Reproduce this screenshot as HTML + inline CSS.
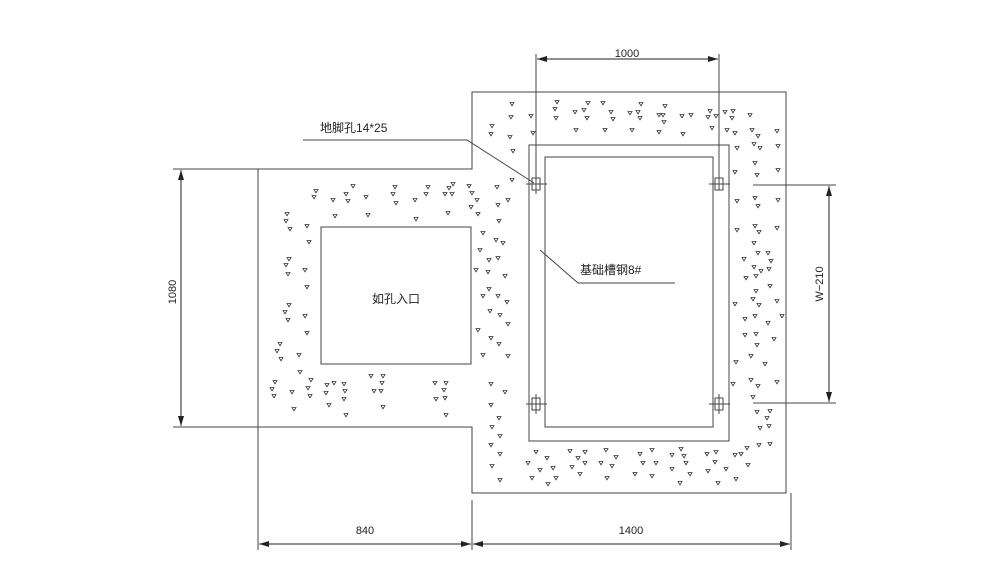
<!DOCTYPE html>
<html><head><meta charset="utf-8"><style>
html,body{margin:0;padding:0;background:#fff}
svg{display:block}
text{font-family:"Liberation Sans","Noto Sans CJK SC",sans-serif;fill:#222}
</style></head><body>
<svg width="1000" height="582" viewBox="0 0 1000 582">
<defs>
<polygon id="t" points="-2,-1.5 2,-1.5 0,1.8" fill="none" stroke="#333" stroke-width="0.8"/>
<marker id="a" markerWidth="10" markerHeight="6" refX="10" refY="3" orient="auto-start-reverse" markerUnits="userSpaceOnUse"><path d="M0,0 L10,3 L0,6 Z" fill="#222"/></marker>
</defs>
<g stroke="#444" stroke-width="1" fill="none">
<!-- outline -->
<polyline points="173,169 472,169 472,92 786,92 786,493 472,493 472,427 173,427"/>
<line x1="258" y1="169" x2="258" y2="550"/>
<line x1="472" y1="500" x2="472" y2="550"/>
<line x1="791" y1="493" x2="791" y2="550"/>
<!-- hole -->
<rect x="321" y="227" width="150" height="137"/>
<!-- channel -->
<rect x="529" y="145" width="200" height="296"/>
<rect x="545" y="157" width="168" height="270"/>
<!-- bolts -->
<g>
<rect x="532" y="178" width="8" height="12"/><line x1="526" y1="184" x2="547" y2="184"/><line x1="536" y1="174" x2="536" y2="194"/>
<rect x="715" y="178" width="8" height="12"/><line x1="709" y1="184" x2="730" y2="184"/>
<rect x="532" y="398" width="8" height="12"/><line x1="526" y1="404" x2="547" y2="404"/><line x1="536" y1="394" x2="536" y2="414"/>
<rect x="715" y="398" width="8" height="12"/><line x1="709" y1="404" x2="730" y2="404"/><line x1="719" y1="394" x2="719" y2="414"/>
</g>
<!-- dim 1000 -->
<line x1="536" y1="54" x2="536" y2="190"/>
<line x1="719" y1="54" x2="719" y2="190"/>
<line x1="537" y1="59" x2="718" y2="59" stroke="#222" marker-start="url(#a)" marker-end="url(#a)"/>
<!-- W-210 -->
<line x1="753" y1="185" x2="836" y2="185"/>
<line x1="753" y1="403" x2="836" y2="403"/>
<line x1="829" y1="186" x2="829" y2="402" stroke="#222" marker-start="url(#a)" marker-end="url(#a)"/>
<!-- 1080 -->
<line x1="181" y1="170" x2="181" y2="426" stroke="#222" marker-start="url(#a)" marker-end="url(#a)"/>
<!-- 840, 1400 -->
<line x1="259" y1="544" x2="471" y2="544" stroke="#222" marker-start="url(#a)" marker-end="url(#a)"/>
<line x1="473" y1="544" x2="790" y2="544" stroke="#222" marker-start="url(#a)" marker-end="url(#a)"/>
<!-- leaders -->
<polyline points="303,140 467,140 534,183"/>
<polyline points="540,250 578,283 675,283"/>
</g>
<g>
<!-- top band of right part -->
<use href="#t" x="512" y="104"/><use href="#t" x="511" y="117"/><use href="#t" x="531" y="116"/><use href="#t" x="492" y="126"/><use href="#t" x="491" y="134"/><use href="#t" x="510" y="137"/><use href="#t" x="533" y="133"/><use href="#t" x="513" y="151"/>
<use href="#t" x="557" y="102"/><use href="#t" x="555" y="109"/><use href="#t" x="556" y="118"/><use href="#t" x="575" y="112"/><use href="#t" x="584" y="110"/><use href="#t" x="587" y="118"/><use href="#t" x="576" y="130"/>
<use href="#t" x="588" y="103"/><use href="#t" x="603" y="103"/><use href="#t" x="611" y="112"/><use href="#t" x="613" y="119"/><use href="#t" x="605" y="130"/>
<use href="#t" x="641" y="104"/><use href="#t" x="630" y="113"/><use href="#t" x="638" y="112"/><use href="#t" x="640" y="118"/><use href="#t" x="632" y="130"/>
<use href="#t" x="665" y="106"/><use href="#t" x="659" y="115"/><use href="#t" x="663" y="115"/><use href="#t" x="664" y="122"/><use href="#t" x="659" y="132"/><use href="#t" x="682" y="116"/><use href="#t" x="691" y="115"/><use href="#t" x="683" y="134"/>
<use href="#t" x="710" y="111"/><use href="#t" x="708" y="117"/><use href="#t" x="716" y="116"/><use href="#t" x="712" y="128"/><use href="#t" x="725" y="112"/><use href="#t" x="733" y="111"/><use href="#t" x="732" y="118"/><use href="#t" x="750" y="115"/>
<use href="#t" x="727" y="130"/><use href="#t" x="735" y="133"/><use href="#t" x="752" y="130"/><use href="#t" x="758" y="136"/><use href="#t" x="777" y="131"/><use href="#t" x="737" y="148"/><use href="#t" x="754" y="144"/><use href="#t" x="760" y="148"/><use href="#t" x="778" y="146"/>
<!-- right band -->
<use href="#t" x="735" y="172"/><use href="#t" x="755" y="163"/><use href="#t" x="757" y="175"/><use href="#t" x="778" y="170"/><use href="#t" x="737" y="201"/><use href="#t" x="755" y="198"/><use href="#t" x="758" y="206"/><use href="#t" x="778" y="200"/>
<use href="#t" x="737" y="230"/><use href="#t" x="755" y="226"/><use href="#t" x="759" y="232"/><use href="#t" x="777" y="228"/><use href="#t" x="754" y="243"/>
<use href="#t" x="744" y="259"/><use href="#t" x="758" y="253"/><use href="#t" x="768" y="253"/><use href="#t" x="771" y="261"/><use href="#t" x="754" y="267"/><use href="#t" x="756" y="276"/><use href="#t" x="761" y="271"/><use href="#t" x="769" y="269"/><use href="#t" x="746" y="278"/><use href="#t" x="770" y="286"/>
<use href="#t" x="756" y="291"/><use href="#t" x="735" y="304"/><use href="#t" x="753" y="299"/><use href="#t" x="759" y="305"/><use href="#t" x="777" y="301"/><use href="#t" x="745" y="319"/><use href="#t" x="755" y="316"/><use href="#t" x="768" y="323"/><use href="#t" x="782" y="316"/>
<use href="#t" x="745" y="335"/><use href="#t" x="756" y="334"/><use href="#t" x="757" y="345"/><use href="#t" x="774" y="339"/><use href="#t" x="751" y="356"/><use href="#t" x="765" y="364"/><use href="#t" x="736" y="362"/><use href="#t" x="733" y="384"/><use href="#t" x="751" y="380"/><use href="#t" x="758" y="386"/><use href="#t" x="777" y="382"/><use href="#t" x="753" y="397"/>
<use href="#t" x="757" y="412"/><use href="#t" x="770" y="411"/><use href="#t" x="767" y="418"/><use href="#t" x="760" y="428"/><use href="#t" x="769" y="426"/><use href="#t" x="770" y="444"/><use href="#t" x="759" y="445"/>
<!-- bottom band -->
<use href="#t" x="707" y="454"/><use href="#t" x="716" y="452"/><use href="#t" x="735" y="455"/><use href="#t" x="747" y="448"/><use href="#t" x="741" y="454"/><use href="#t" x="715" y="462"/><use href="#t" x="726" y="469"/><use href="#t" x="748" y="465"/><use href="#t" x="736" y="479"/><use href="#t" x="718" y="483"/><use href="#t" x="708" y="471"/>
<use href="#t" x="681" y="449"/><use href="#t" x="672" y="455"/><use href="#t" x="684" y="456"/><use href="#t" x="686" y="463"/><use href="#t" x="672" y="469"/><use href="#t" x="690" y="474"/><use href="#t" x="680" y="483"/>
<use href="#t" x="652" y="450"/><use href="#t" x="640" y="454"/><use href="#t" x="643" y="463"/><use href="#t" x="656" y="463"/><use href="#t" x="635" y="474"/><use href="#t" x="652" y="476"/>
<use href="#t" x="606" y="450"/><use href="#t" x="616" y="457"/><use href="#t" x="601" y="463"/><use href="#t" x="612" y="466"/><use href="#t" x="607" y="478"/>
<use href="#t" x="570" y="451"/><use href="#t" x="585" y="452"/><use href="#t" x="578" y="458"/><use href="#t" x="585" y="463"/><use href="#t" x="572" y="467"/><use href="#t" x="580" y="474"/>
<use href="#t" x="536" y="452"/><use href="#t" x="547" y="458"/><use href="#t" x="528" y="463"/><use href="#t" x="540" y="470"/><use href="#t" x="553" y="468"/><use href="#t" x="532" y="478"/><use href="#t" x="548" y="484"/><use href="#t" x="556" y="478"/>
<!-- left band of right part -->
<use href="#t" x="497" y="187"/><use href="#t" x="512" y="180"/><use href="#t" x="498" y="205"/><use href="#t" x="508" y="200"/><use href="#t" x="499" y="221"/><use href="#t" x="496" y="240"/><use href="#t" x="503" y="243"/><use href="#t" x="489" y="260"/><use href="#t" x="498" y="258"/><use href="#t" x="488" y="272"/><use href="#t" x="505" y="276"/>
<use href="#t" x="489" y="289"/><use href="#t" x="498" y="296"/><use href="#t" x="507" y="302"/><use href="#t" x="490" y="311"/><use href="#t" x="500" y="315"/><use href="#t" x="508" y="324"/><use href="#t" x="491" y="338"/><use href="#t" x="499" y="344"/><use href="#t" x="508" y="356"/>
<use href="#t" x="491" y="384"/><use href="#t" x="505" y="392"/><use href="#t" x="491" y="405"/><use href="#t" x="499" y="418"/><use href="#t" x="492" y="427"/><use href="#t" x="500" y="436"/><use href="#t" x="491" y="445"/><use href="#t" x="500" y="454"/><use href="#t" x="492" y="466"/><use href="#t" x="500" y="480"/>
<!-- left part top band -->
<use href="#t" x="316" y="191"/><use href="#t" x="314" y="197"/><use href="#t" x="333" y="200"/><use href="#t" x="353" y="186"/><use href="#t" x="346" y="194"/><use href="#t" x="348" y="201"/><use href="#t" x="366" y="197"/><use href="#t" x="368" y="215"/><use href="#t" x="335" y="216"/>
<use href="#t" x="395" y="187"/><use href="#t" x="393" y="194"/><use href="#t" x="396" y="203"/><use href="#t" x="415" y="200"/><use href="#t" x="428" y="187"/><use href="#t" x="426" y="194"/><use href="#t" x="416" y="219"/>
<use href="#t" x="453" y="184"/><use href="#t" x="449" y="188"/><use href="#t" x="445" y="194"/><use href="#t" x="452" y="194"/><use href="#t" x="448" y="213"/><use href="#t" x="469" y="186"/><use href="#t" x="472" y="193"/><use href="#t" x="471" y="207"/><use href="#t" x="477" y="200"/>
<!-- left part left band -->
<use href="#t" x="287" y="214"/><use href="#t" x="286" y="221"/><use href="#t" x="290" y="229"/><use href="#t" x="307" y="226"/><use href="#t" x="309" y="242"/><use href="#t" x="289" y="259"/><use href="#t" x="286" y="265"/><use href="#t" x="288" y="274"/><use href="#t" x="305" y="270"/><use href="#t" x="307" y="287"/>
<use href="#t" x="289" y="305"/><use href="#t" x="285" y="312"/><use href="#t" x="288" y="320"/><use href="#t" x="305" y="316"/><use href="#t" x="307" y="333"/><use href="#t" x="280" y="344"/><use href="#t" x="277" y="351"/><use href="#t" x="281" y="359"/><use href="#t" x="299" y="355"/><use href="#t" x="300" y="372"/>
<!-- left part bottom band -->
<use href="#t" x="275" y="382"/><use href="#t" x="272" y="389"/><use href="#t" x="274" y="396"/><use href="#t" x="292" y="392"/><use href="#t" x="294" y="409"/><use href="#t" x="311" y="380"/><use href="#t" x="308" y="388"/><use href="#t" x="310" y="396"/>
<use href="#t" x="327" y="385"/><use href="#t" x="334" y="383"/><use href="#t" x="326" y="393"/><use href="#t" x="344" y="384"/><use href="#t" x="345" y="391"/><use href="#t" x="344" y="399"/><use href="#t" x="329" y="405"/><use href="#t" x="346" y="415"/>
<use href="#t" x="371" y="376"/><use href="#t" x="383" y="376"/><use href="#t" x="382" y="383"/><use href="#t" x="374" y="391"/><use href="#t" x="381" y="391"/><use href="#t" x="383" y="407"/>
<use href="#t" x="435" y="383"/><use href="#t" x="446" y="383"/><use href="#t" x="444" y="390"/><use href="#t" x="436" y="399"/><use href="#t" x="445" y="398"/><use href="#t" x="446" y="415"/>
<use href="#t" x="478" y="214"/><use href="#t" x="483" y="233"/><use href="#t" x="480" y="250"/><use href="#t" x="476" y="270"/><use href="#t" x="483" y="296"/><use href="#t" x="478" y="330"/><use href="#t" x="483" y="355"/>
</g>
<g font-size="11">
<text x="627" y="57" text-anchor="middle">1000</text>
<text x="365" y="534" text-anchor="middle">840</text>
<text x="631" y="534" text-anchor="middle">1400</text>
<text transform="translate(176,292) rotate(-90)" text-anchor="middle">1080</text>
<text transform="translate(823,284) rotate(-90)" text-anchor="middle">W−210</text>
<text x="320" y="132" font-size="12">地脚孔14*25</text>
<text x="580" y="274" font-size="12">基础槽钢8#</text>
<text x="396" y="303" font-size="12" text-anchor="middle">如孔入口</text>
</g>
</svg>
</body></html>
